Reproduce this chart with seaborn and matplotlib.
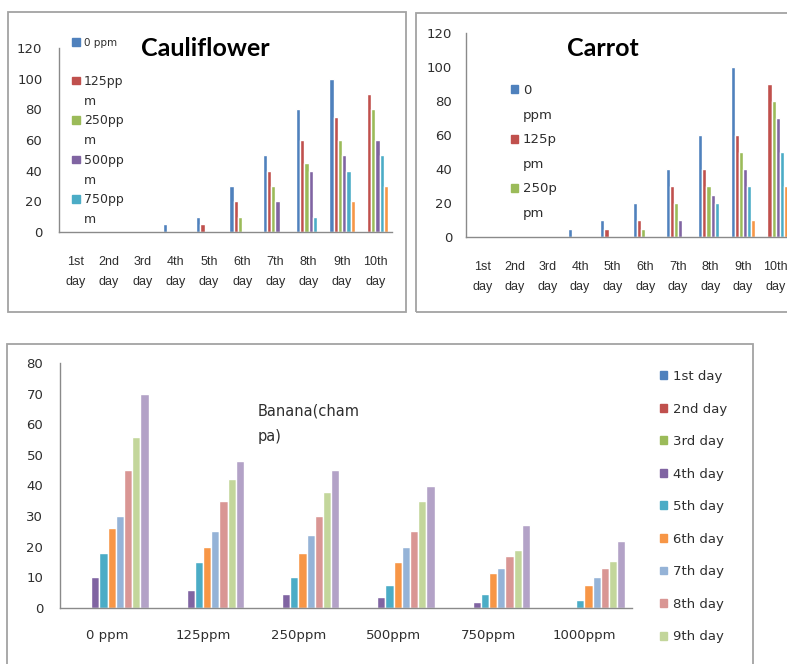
import numpy as np
import pandas as pd
import matplotlib.pyplot as plt
import seaborn as sns
from matplotlib.patches import Patch, Rectangle

# ---- data ----
days = ['1st\nday', '2nd\nday', '3rd\nday', '4th\nday', '5th\nday',
        '6th\nday', '7th\nday', '8th\nday', '9th\nday', '10th\nday']
ppm_top = ['0 ppm', '125ppm', '250ppm', '500ppm', '750ppm', '1000ppm']

cauli_0 = [0, 0, 0, 5, 10, 30, 50, 80, 100, 0]
cauli_125 = [0, 0, 0, 0, 5, 20, 40, 60, 75, 90]
cauli_250 = [0, 0, 0, 0, 0, 10, 30, 45, 60, 80]
cauli_500 = [0, 0, 0, 0, 0, 0, 20, 40, 50, 60]
cauli_750 = [0, 0, 0, 0, 0, 0, 0, 10, 40, 50]
cauli_1000 = [0, 0, 0, 0, 0, 0, 0, 0, 20, 30]

carrot_0 = [0, 0, 0, 5, 10, 20, 40, 60, 100, 0]
carrot_125 = [0, 0, 0, 0, 5, 10, 30, 40, 60, 90]
carrot_250 = [0, 0, 0, 0, 0, 5, 20, 30, 50, 80]
carrot_500 = [0, 0, 0, 0, 0, 0, 10, 25, 40, 70]
carrot_750 = [0, 0, 0, 0, 0, 0, 0, 20, 30, 50]
carrot_1000 = [0, 0, 0, 0, 0, 0, 0, 0, 10, 30]

banana_ppm = ['0 ppm', '125ppm', '250ppm', '500ppm', '750ppm', '1000ppm']
banana_days = ['1st day', '2nd day', '3rd day', '4th day', '5th day',
               '6th day', '7th day', '8th day', '9th day', '10th day']
ban_d1 = [0, 0, 0, 0, 0, 0]
ban_d2 = [0, 0, 0, 0, 0, 0]
ban_d3 = [0, 0, 0, 0, 0, 0]
ban_d4 = [10, 6, 4.5, 3.5, 2, 0]
ban_d5 = [18, 15, 10, 7.5, 4.5, 2.5]
ban_d6 = [26, 20, 18, 15, 11.5, 7.5]
ban_d7 = [30, 25, 24, 20, 13, 10]
ban_d8 = [45, 35, 30, 25, 17, 13]
ban_d9 = [56, 42, 38, 35, 19, 15.5]
ban_d10 = [70, 48, 45, 40, 27, 22]

colors = ['#4F81BD', '#C0504D', '#9BBB59', '#8064A2', '#4BACC6',
          '#F79646', '#95B3D7', '#D99694', '#C3D69B', '#B3A2C7']


def long_table(series_list, cats, hue_levels):
    rows = []
    for lvl, vals in zip(hue_levels, series_list):
        for c, v in zip(cats, vals):
            rows.append({'cat': c, 'grp': lvl, 'value': v})
    return pd.DataFrame(rows)


df_cauli = long_table([cauli_0, cauli_125, cauli_250, cauli_500, cauli_750, cauli_1000],
                      days, ppm_top)
df_carrot = long_table([carrot_0, carrot_125, carrot_250, carrot_500, carrot_750, carrot_1000],
                       days, ppm_top)
df_banana = long_table([ban_d1, ban_d2, ban_d3, ban_d4, ban_d5, ban_d6, ban_d7,
                        ban_d8, ban_d9, ban_d10], banana_ppm, banana_days)

sns.set_style('white')
plt.rcParams['font.family'] = ['DejaVu Sans']

W, H = 787, 664
fig = plt.figure(figsize=(W / 100, H / 100), dpi=100)
TXT = '#2e2e2e'
AX = '#8a8a8a'


def pix_axes(x0, y0, x1, y1):
    return fig.add_axes([x0 / W, 1 - y1 / H, (x1 - x0) / W, (y1 - y0) / H])


def panel_box(x0, y0, x1, y1):
    fig.add_artist(Rectangle((x0 / W, 1 - y1 / H), (x1 - x0) / W, (y1 - y0) / H,
                             transform=fig.transFigure, fill=False,
                             ec='#a3a3a3', lw=1.3, zorder=0))


panel_box(8, 12, 406, 312)
panel_box(416, 13, 830, 312)
panel_box(7, 344, 753, 700)


def style_top(ax, ypad, xpad):
    ax.set_facecolor('none')
    ax.set_ylim(0, 120)
    ax.set_yticks(range(0, 121, 20))
    ax.set_xlabel('')
    ax.set_ylabel('')
    sns.despine(ax=ax)
    for s in ['left', 'bottom']:
        ax.spines[s].set_color(AX)
        ax.spines[s].set_linewidth(1.0)
    ax.tick_params(axis='y', length=0, pad=ypad, labelsize=9.5, labelcolor=TXT)
    ax.tick_params(axis='x', length=0, pad=xpad, labelsize=9, labelcolor=TXT)
    for t in ax.get_xticklabels():
        t.set_linespacing(1.95)
        t.set_family('Liberation Sans')


blank = Patch(facecolor='none', edgecolor='none')

# ---- Cauliflower ----
ax1 = pix_axes(59, 48, 392, 232)
sns.barplot(data=df_cauli, x='cat', y='value', hue='grp', palette=colors[:6],
            width=0.77, saturation=1, errorbar=None, legend=False, ax=ax1)
style_top(ax1, 12, 17)
ax1.text(0.44, 1.0, 'Cauliflower', transform=ax1.transAxes, ha='center', va='center',
         fontsize=18, fontweight='bold', family='Lato', color='black')
h1 = [Patch(color=colors[0]), blank, Patch(color=colors[1]), blank, Patch(color=colors[2]),
      blank, Patch(color=colors[3]), blank, Patch(color=colors[4]), blank]
l1 = ['0 ppm', '', '125pp', 'm', '250pp', 'm', '500pp', 'm', '750pp', 'm']
leg1 = fig.legend(h1, l1, loc='upper left', bbox_to_anchor=(72 / W, 1 - 38 / H),
                  frameon=False, fontsize=9, handlelength=0.6, handleheight=0.6,
                  handletextpad=0.35, labelspacing=0.54, borderpad=0, borderaxespad=0,
                  labelcolor=TXT)
leg1.get_texts()[0].set_fontsize(7.5)

# ---- Carrot ----
ax2 = pix_axes(466, 33, 792, 237)
sns.barplot(data=df_carrot, x='cat', y='value', hue='grp', palette=colors[:6],
            width=0.76, saturation=1, errorbar=None, legend=False, ax=ax2)
style_top(ax2, 10, 17)
ax2.text(0.42, 0.925, 'Carrot', transform=ax2.transAxes, ha='center', va='center',
         fontsize=18, fontweight='bold', family='Lato', color='black')
h2 = [Patch(color=colors[0]), blank, Patch(color=colors[1]), blank, Patch(color=colors[2]), blank]
l2 = ['0', 'ppm', '125p', 'pm', '250p', 'pm']
fig.legend(h2, l2, loc='upper left', bbox_to_anchor=(511 / W, 1 - 84 / H),
           frameon=False, fontsize=9.5, handlelength=0.55, handleheight=0.55,
           handletextpad=0.35, labelspacing=0.88, borderpad=0, borderaxespad=0,
           labelcolor=TXT)

# ---- Banana ----
ax3 = pix_axes(60, 363, 632, 608)
sns.barplot(data=df_banana, x='cat', y='value', hue='grp', palette=colors,
            width=0.86, saturation=1, errorbar=None, legend=False, ax=ax3)
ax3.set_facecolor('none')
ax3.set_ylim(0, 80)
ax3.set_yticks(range(0, 81, 10))
ax3.set_xlabel('')
ax3.set_ylabel('')
sns.despine(ax=ax3)
for s in ['left', 'bottom']:
    ax3.spines[s].set_color(AX)
    ax3.spines[s].set_linewidth(1.0)
ax3.set_xticks(np.arange(-0.5, len(banana_ppm), 1.0), minor=True)
ax3.tick_params(axis='y', length=4, color=AX, pad=8, labelsize=9.5, labelcolor=TXT)
ax3.tick_params(axis='x', which='major', length=0, pad=15, labelsize=9.5, labelcolor=TXT)
ax3.tick_params(axis='x', which='minor', length=4, color=AX)
ax3.text(0.345, 0.835, 'Banana(cham\npa)', transform=ax3.transAxes, ha='left', va='top',
         fontsize=10.5, color=TXT, linespacing=1.85)
# the legend box is cut by the picture edge after the 9th entry
h3 = [Patch(color=c) for c in colors[:9]]
fig.legend(h3, banana_days[:9], loc='upper left', bbox_to_anchor=(660 / W, 1 - 370 / H),
           frameon=False, fontsize=9.5, handlelength=0.55, handleheight=0.55,
           handletextpad=0.4, labelspacing=1.48, borderpad=0, borderaxespad=0,
           labelcolor=TXT)

fig.savefig('out.png', dpi=100)
